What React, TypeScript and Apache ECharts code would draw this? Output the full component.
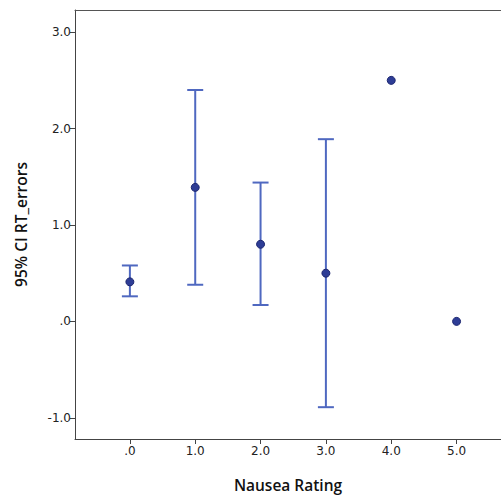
import React, { useEffect, useRef } from "react";
import * as echarts from "echarts";

const categories = [0, 1, 2, 3, 4, 5];
const means = [0.41, 1.39, 0.8, 0.5, 2.5, 0.0];
const lowerCI: (number | null)[] = [0.26, 0.38, 0.17, -0.89, null, null];
const upperCI: (number | null)[] = [0.58, 2.4, 1.44, 1.89, null, null];
const yTicks = [-1, 0, 1, 2, 3];
const xTicks = [0, 1, 2, 3, 4, 5];

const fmt = (v: number) => (v === 0 ? ".0" : v.toFixed(1));

export default function App() {
  const ref = useRef<HTMLDivElement>(null);
  useEffect(() => {
    if (!ref.current) return;
    const chart = echarts.init(ref.current, undefined, { renderer: "svg" });
    const barData = categories
      .map((c, i) => [c, lowerCI[i], upperCI[i]])
      .filter((d) => d[1] !== null && d[2] !== null);
    const axisCommon = {
      axisLine: { show: true, onZero: false, lineStyle: { color: "#444", width: 1 } },
      axisTick: { show: true, length: 5, lineStyle: { color: "#444" } },
      splitLine: { show: false },
      axisLabel: { color: "#222", fontFamily: "DejaVu Sans", fontSize: 12, formatter: fmt },
    };
    const titleStyle = { fontFamily: "Open Sans", fontWeight: 600, fontSize: 15.5, color: "#111" };
    chart.setOption({
      animation: false,
      grid: {
        left: 75,
        right: 0,
        top: 10,
        bottom: 56,
        show: false,
        containLabel: false,
        outerBoundsMode: "none",
      },
      xAxis: [
        {
          type: "value",
          min: -0.84,
          max: 5.68,
          ...axisCommon,
          axisTick: { ...axisCommon.axisTick, customValues: xTicks },
          axisLabel: { ...axisCommon.axisLabel, customValues: xTicks, margin: 6 },
          name: "Nausea Rating",
          nameLocation: "middle",
          nameGap: 38,
          nameTextStyle: titleStyle,
        },
        {
          type: "value",
          position: "top",
          min: -0.84,
          max: 5.68,
          axisLine: { show: true, onZero: false, lineStyle: { color: "#555", width: 1 } },
          axisTick: { show: false },
          axisLabel: { show: false },
          splitLine: { show: false },
        },
      ],
      yAxis: {
        type: "value",
        min: -1.22,
        max: 3.23,
        ...axisCommon,
        axisTick: { ...axisCommon.axisTick, customValues: yTicks },
        axisLabel: { ...axisCommon.axisLabel, customValues: yTicks, margin: 4 },
        name: "95% CI RT_errors",
        nameLocation: "middle",
        nameGap: 46,
        nameTextStyle: titleStyle,
      },
      series: [
        {
          type: "custom",
          data: barData,
          renderItem: (params: any, api: any) => {
            const x = api.value(0);
            const lo = api.coord([x, api.value(1)]);
            const hi = api.coord([x, api.value(2)]);
            const hw = 8;
            const style = { stroke: "#4f68c0", lineWidth: 2 };
            return {
              type: "group",
              children: [
                { type: "line", shape: { x1: lo[0], y1: lo[1], x2: hi[0], y2: hi[1] }, style },
                { type: "line", shape: { x1: lo[0] - hw, y1: lo[1], x2: lo[0] + hw, y2: lo[1] }, style },
                { type: "line", shape: { x1: hi[0] - hw, y1: hi[1], x2: hi[0] + hw, y2: hi[1] }, style },
              ],
            };
          },
          z: 1,
        },
        {
          type: "scatter",
          data: categories.map((c, i) => [c, means[i]]),
          symbol: "circle",
          symbolSize: 8,
          itemStyle: { color: "#2e3d96", borderColor: "#1c2670", borderWidth: 1, opacity: 1 },
          z: 2,
        },
      ],
    });
    return () => chart.dispose();
  }, []);
  return (
    <div
      ref={ref}
      style={{ position: "fixed", left: 0, top: 0, width: 501, height: 495, background: "#fff" }}
    />
  );
}
